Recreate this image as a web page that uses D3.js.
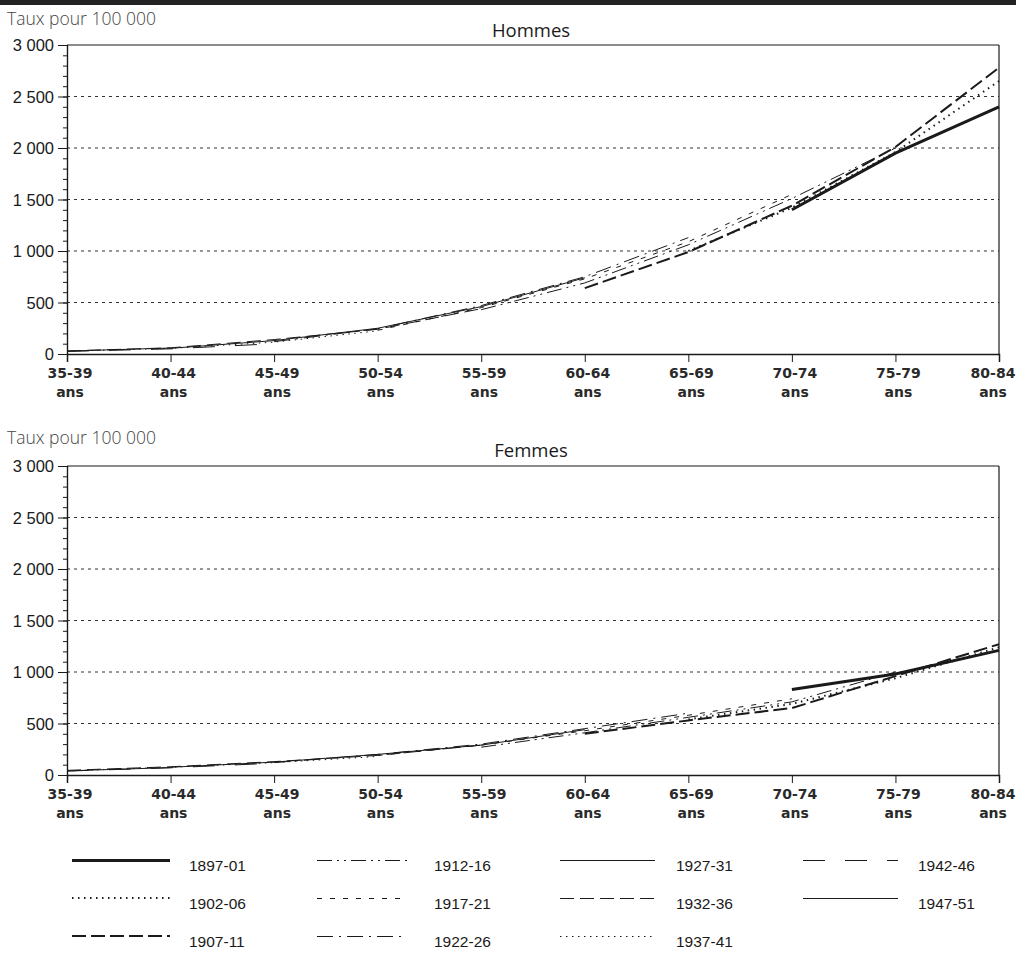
<!DOCTYPE html>
<html>
<head>
<meta charset="utf-8">
<script src="https://cdn.jsdelivr.net/npm/d3@7"></script>
<style>
  html, body { margin: 0; padding: 0; background: #fff; }
  svg { display: block; }
</style>
</head>
<body>
<svg id="chart" width="1016" height="961"></svg>
<script>
// Age groups on the x axis
const ageGroups = ["35-39", "40-44", "45-49", "50-54", "55-59", "60-64", "65-69", "70-74", "75-79", "80-84"];

// Birth cohorts
const cohorts = ["1897-01", "1902-06", "1907-11", "1912-16", "1917-21", "1922-26",
                 "1927-31", "1932-36", "1937-41", "1942-46", "1947-51"];

// Rates per 100 000, men (null = cohort not observed at that age)
const hommes = [
  [null, null, null, null, null, null, null, 1400, 1950, 2400],
  [null, null, null, null, null, null, 1000, 1420, 1960, 2650],
  [null, null, null, null, null, 640, 990, 1440, 2010, 2780],
  [null, null, null, null, 430, 690, 1060, 1510, 2000, null],
  [null, null, null, 230, 450, 730, 1090, 1550, null, null],
  [null, null, 120, 245, 470, 750, 1130, null, null, null],
  [null, 55, 130, 250, 460, 740, null, null, null, null],
  [30, 60, 140, 240, 440, null, null, null, null, null],
  [28, 55, 115, 225, null, null, null, null, null, null],
  [25, 50, 100, null, null, null, null, null, null, null],
  [28, 58, null, null, null, null, null, null, null, null]
];

// Rates per 100 000, women
const femmes = [
  [null, null, null, null, null, null, null, 830, 980, 1210],
  [null, null, null, null, null, null, 540, 690, 940, 1240],
  [null, null, null, null, null, 400, 530, 650, 960, 1270],
  [null, null, null, null, 270, 410, 560, 710, 1000, null],
  [null, null, null, 190, 290, 430, 580, 740, null, null],
  [null, null, 120, 200, 300, 450, 600, null, null, null],
  [null, 75, 125, 200, 290, 440, null, null, null, null],
  [45, 80, 130, 190, 290, null, null, null, null, null],
  [40, 75, 120, 180, null, null, null, null, null, null],
  [38, 70, 115, null, null, null, null, null, null, null],
  [40, 72, null, null, null, null, null, null, null, null]
];

// Y axis values
const majorTicks = [0, 500, 1000, 1500, 2000, 2500, 3000];
const minorTicks = d3.range(0, 3001, 100);

// Stroke style of each cohort line
const styles = [
  { w: 3.0, dash: null },
  { w: 2.0, dash: "1.5,4.5" },
  { w: 2.0, dash: "14,5" },
  { w: 1.0, dash: "15,5,2,5,2,5" },
  { w: 1.0, dash: "5,8" },
  { w: 1.0, dash: "16,6,2,6" },
  { w: 1.0, dash: null },
  { w: 1.0, dash: "14,6" },
  { w: 1.0, dash: "1.5,4.5" },
  { w: 1.0, dash: "22,20" },
  { w: 1.0, dash: null }
];

const svg = d3.select("#chart");
const ink = "#1a1a1a";
const fmt = v => v === 0 ? "0" : d3.format(",")(v).replace(",", " ");

// Header rule
svg.append("rect").attr("x", 0).attr("y", 0).attr("width", 1016).attr("height", 5).attr("fill", "#222");

const x = d3.scalePoint().domain(ageGroups).range([67, 999]);

function panel(title, values, top, bottom, titleY, unitY) {
  const g = svg.append("g");
  const y = d3.scaleLinear().domain([0, 3000]).range([bottom, top]);

  g.append("text").attr("x", 7).attr("y", unitY)
    .attr("font-family", "Open Sans, Liberation Sans, sans-serif").attr("font-size", 17.5)
    .attr("font-weight", 300).attr("fill", "#444").text("Taux pour 100 000");

  g.append("text").attr("x", 531).attr("y", titleY).attr("text-anchor", "middle")
    .attr("font-family", "Open Sans, Liberation Sans, sans-serif").attr("font-size", 18.5)
    .attr("fill", ink).text(title);

  // Dotted gridlines
  g.selectAll("line.grid").data(majorTicks.filter(v => v > 0 && v < 3000)).join("line")
    .attr("x1", x.range()[0]).attr("x2", x.range()[1])
    .attr("y1", d => y(d)).attr("y2", d => y(d))
    .attr("stroke", "#333").attr("stroke-width", 1).attr("stroke-dasharray", "3,4");

  // Frame: top and right edges
  g.append("line").attr("x1", x.range()[0]).attr("x2", x.range()[1])
    .attr("y1", y(3000)).attr("y2", y(3000)).attr("stroke", ink).attr("stroke-width", 1.2);
  g.append("line").attr("x1", x.range()[1]).attr("x2", x.range()[1])
    .attr("y1", y(3000)).attr("y2", y(0)).attr("stroke", ink).attr("stroke-width", 1.2);

  // Left axis with minor ticks
  const yAxis = g.append("g").attr("transform", `translate(${x.range()[0]},0)`);
  yAxis.call(d3.axisLeft(y).tickValues(minorTicks).tickSize(4).tickFormat(""));
  yAxis.append("g").call(d3.axisLeft(y).tickValues(majorTicks).tickSize(9).tickFormat(fmt));
  yAxis.selectAll(".domain").attr("stroke", ink).attr("stroke-width", 1.2);
  yAxis.selectAll(".tick line").attr("stroke", ink);
  yAxis.selectAll("text").attr("font-family", "Liberation Sans, Arial, sans-serif")
    .attr("font-size", 16.5).attr("fill", ink).attr("x", -13).attr("dy", "0.35em");

  // Bottom axis
  const xAxis = g.append("g").attr("transform", `translate(0,${bottom})`);
  xAxis.call(d3.axisBottom(x).tickSize(8).tickFormat(""));
  xAxis.select(".domain").attr("stroke", ink).attr("stroke-width", 1.5);
  xAxis.selectAll(".tick line").attr("stroke", ink);
  const last = ageGroups[ageGroups.length - 1];
  const lab = xAxis.selectAll("g.lab").data(ageGroups).join("g")
    .attr("transform", d => `translate(${d === last ? 993 : x(d) + 3},0)`);
  lab.append("text").attr("y", 24).attr("text-anchor", "middle").text(d => d);
  lab.append("text").attr("y", 43).attr("text-anchor", "middle").text("ans");
  lab.selectAll("text").attr("font-family", "DejaVu Sans, sans-serif").attr("font-size", 14)
    .attr("font-weight", 600).attr("fill", "#2a2a2a");

  // Cohort lines
  const line = d3.line()
    .defined(d => d.v != null)
    .x(d => x(d.age)).y(d => y(d.v));
  values.forEach((row, i) => {
    const pts = row.map((v, j) => ({ age: ageGroups[j], v }));
    const s = styles[i];
    g.append("path").datum(pts).attr("d", line)
      .attr("fill", "none").attr("stroke", ink).attr("stroke-width", s.w)
      .attr("stroke-dasharray", s.dash).attr("stroke-linejoin", "round");
  });
}

panel("Hommes", hommes, 45, 354, 37, 25);
panel("Femmes", femmes, 466, 775, 457, 444);

// Legend: four columns, three rows
const legendCols = [[72, 170, 189], [317, 407, 434], [560, 655, 676], [803, 898, 918]];
const legendRows = [860, 898, 936];
const leg = svg.append("g");
cohorts.forEach((c, i) => {
  const col = legendCols[Math.floor(i / 3)];
  const ry = legendRows[i % 3];
  const s = styles[i];
  const ly = s.w % 2 === 1 ? ry + 0.5 : ry;
  leg.append("line").attr("x1", col[0]).attr("x2", col[1]).attr("y1", ly).attr("y2", ly)
    .attr("stroke", ink).attr("stroke-width", s.w).attr("stroke-dasharray", s.dash);
  leg.append("text").attr("x", col[2]).attr("y", ry + 11)
    .attr("font-family", "Liberation Sans, Arial, sans-serif").attr("font-size", 15.5)
    .attr("fill", ink).text(c);
});
</script>
</body>
</html>
